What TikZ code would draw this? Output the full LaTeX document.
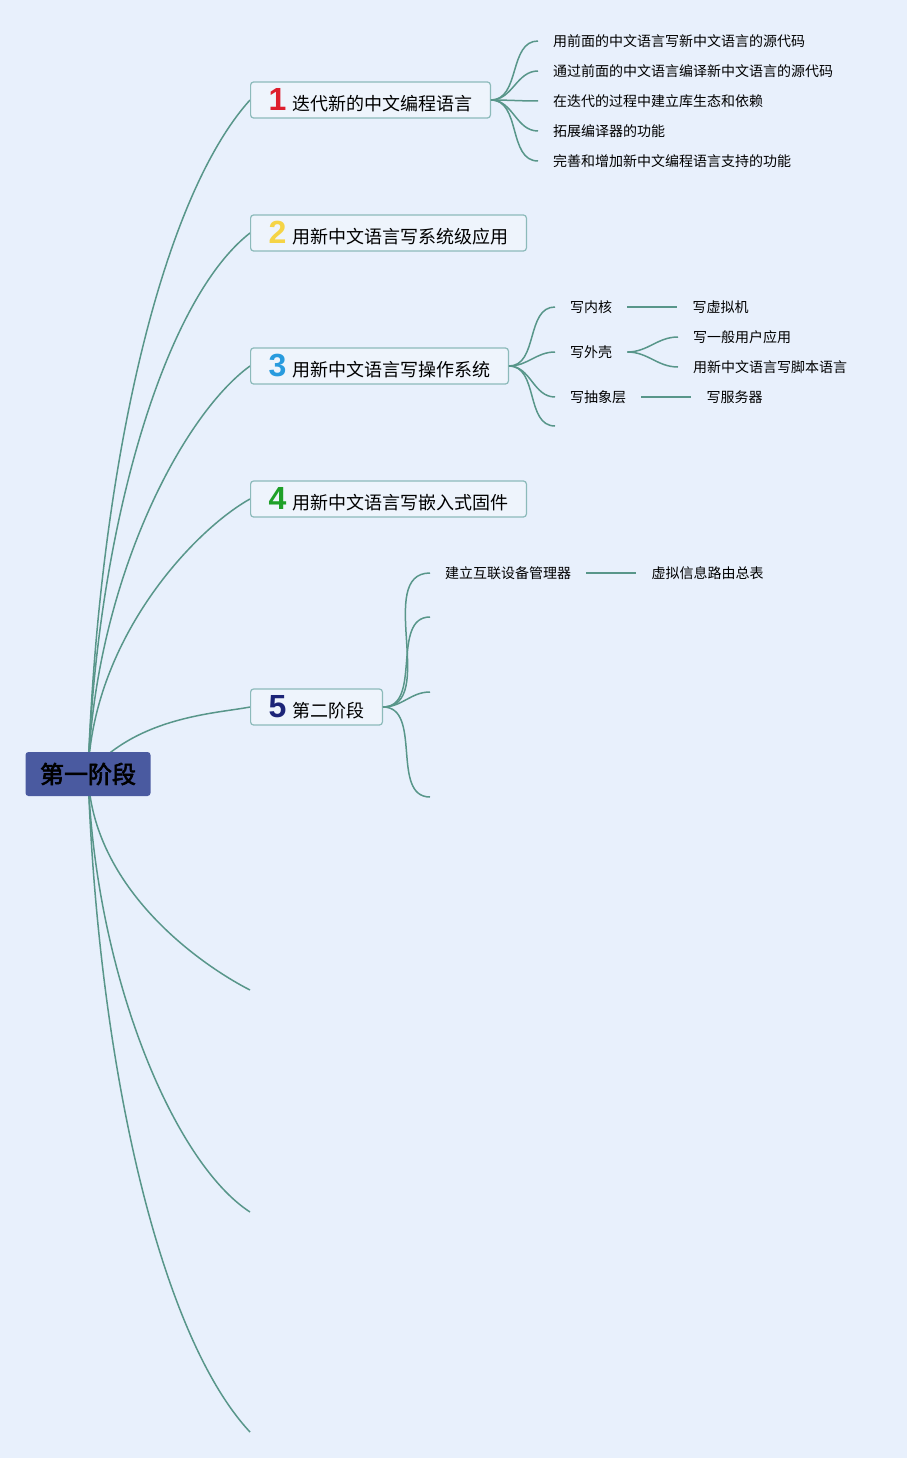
\documentclass[tikz,border=0pt]{standalone}
\usepackage{fontspec}
\setmainfont{Noto Sans CJK SC}
\newfontfamily\rootfont{Noto Sans CJK SC}[FakeBold=2.5]
\newfontfamily\numfont{Liberation Sans}
\usetikzlibrary{positioning,backgrounds}
\definecolor{bgblue}{RGB}{232,240,252}
\definecolor{boxfill}{RGB}{238,244,252}
\definecolor{boxline}{RGB}{140,186,186}
\definecolor{linkteal}{RGB}{88,150,138}
\definecolor{rootblue}{RGB}{74,90,160}
\definecolor{numred}{RGB}{222,30,45}
\definecolor{numyellow}{RGB}{245,212,70}
\definecolor{numblue}{RGB}{40,155,222}
\definecolor{numgreen}{RGB}{30,160,40}
\definecolor{numnavy}{RGB}{28,36,120}

\tikzset{
  root/.style={fill=rootblue, rounded corners=3pt, minimum width=125pt, minimum height=44pt, font=\rootfont\fontsize{24}{26}\selectfont},
  topic/.style={draw=boxline, fill=boxfill, line width=1.2pt, rounded corners=3pt, minimum height=36pt, inner xsep=18pt, inner ysep=0pt, anchor=west, font=\fontsize{18}{20}\selectfont},
  leaf/.style={inner xsep=15pt, inner ysep=2pt, anchor=west, font=\fontsize{14}{16}\selectfont},
  link/.style={draw=linkteal, line width=1.5pt},
  trunk/.style={link, out looseness=1.1, in looseness=0.5}
}
\newcommand{\topicnum}[2]{{\numfont\bfseries\fontsize{32}{32}\selectfont\color{#1}#2}\hspace{6pt}}

\begin{document}
\begin{tikzpicture}[x=1pt,y=1pt]
\useasboundingbox (0,0) rectangle (907,-1458);
\begin{scope}[on background layer]
  \fill[bgblue] (0,0) rectangle (907,-1458);
\end{scope}

% main topics
\node[root] (root) at (88,-774) {第一阶段};
\node[topic] (t1) at (250,-100) {\topicnum{numred}{1}迭代新的中文编程语言};
\node[topic] (t2) at (250,-233) {\topicnum{numyellow}{2}用新中文语言写系统级应用};
\node[topic] (t3) at (250,-366) {\topicnum{numblue}{3}用新中文语言写操作系统};
\node[topic] (t4) at (250,-499) {\topicnum{numgreen}{4}用新中文语言写嵌入式固件};
\node[topic] (t5) at (250,-707) {\topicnum{numnavy}{5}第二阶段};
\coordinate (t6) at (250,-990);
\coordinate (t7) at (250,-1212);
\coordinate (t8) at (250,-1432);

% topic 1
\foreach \name/\y/\txt in {a/41/用前面的中文语言写新中文语言的源代码,
    b/71/通过前面的中文语言编译新中文语言的源代码,
    c/101/在迭代的过程中建立库生态和依赖,
    d/131/拓展编译器的功能,
    e/161/完善和增加新中文编程语言支持的功能}
{
  \node[leaf] (t1\name) at (538,-\y) {\txt};
  \draw[link] (t1.east) to[out=0,in=180] (t1\name.west);
}

% topic 3
\node[leaf] (t3a) at (555,-307) {写内核};
\node[leaf] (t3b) at (555,-352) {写外壳};
\node[leaf] (t3c) at (555,-397) {写抽象层};
\coordinate (t3d) at (555,-426);
\node[leaf, right=50pt of t3a] (t3aa) {写虚拟机};
\node[leaf] (t3ba) at (678,-337) {写一般用户应用};
\node[leaf] (t3bb) at (678,-367) {用新中文语言写脚本语言};
\node[leaf, right=50pt of t3c] (t3ca) {写服务器};
\foreach \n in {t3a,t3b,t3c}
  \draw[link] (t3.east) to[out=0,in=180] (\n.west);
\draw[link] (t3.east) to[out=0,in=180] (t3d);
\draw[link] (t3a) -- (t3aa);
\draw[link] (t3b.east) to[out=0,in=180] (t3ba.west);
\draw[link] (t3b.east) to[out=0,in=180] (t3bb.west);
\draw[link] (t3c) -- (t3ca);

% topic 5
\node[leaf] (t5a) at (430,-573) {建立互联设备管理器};
\node[leaf, right=50pt of t5a] (t5aa) {虚拟信息路由总表};
\coordinate (t5b) at (430,-617);
\coordinate (t5c) at (430,-692);
\coordinate (t5d) at (430,-797);
\draw[link] (t5.east) to[out=0,in=180] (t5a.west);
\foreach \n in {t5b,t5c,t5d}
  \draw[link] (t5.east) to[out=0,in=180] (\n);
\draw[link] (t5a) -- (t5aa);

% trunks from the root
\begin{scope}[on background layer]
  \draw[trunk] (root.center) to[out=88,in=228] (t1.west);
  \draw[trunk] (root.center) to[out=88,in=218] (t2.west);
  \draw[trunk] (root.center) to[out=88,in=216] (t3.west);
  \draw[trunk] (root.center) to[out=88,in=209] (t4.west);
  \draw[trunk] (root.center) to[out=50,in=191] (t5.west);
  \draw[trunk] (root.center) to[out=-88,in=153] (t6);
  \draw[trunk] (root.center) to[out=-88,in=147] (t7);
  \draw[trunk] (root.center) to[out=-88,in=133] (t8);
\end{scope}
\end{tikzpicture}
\end{document}
